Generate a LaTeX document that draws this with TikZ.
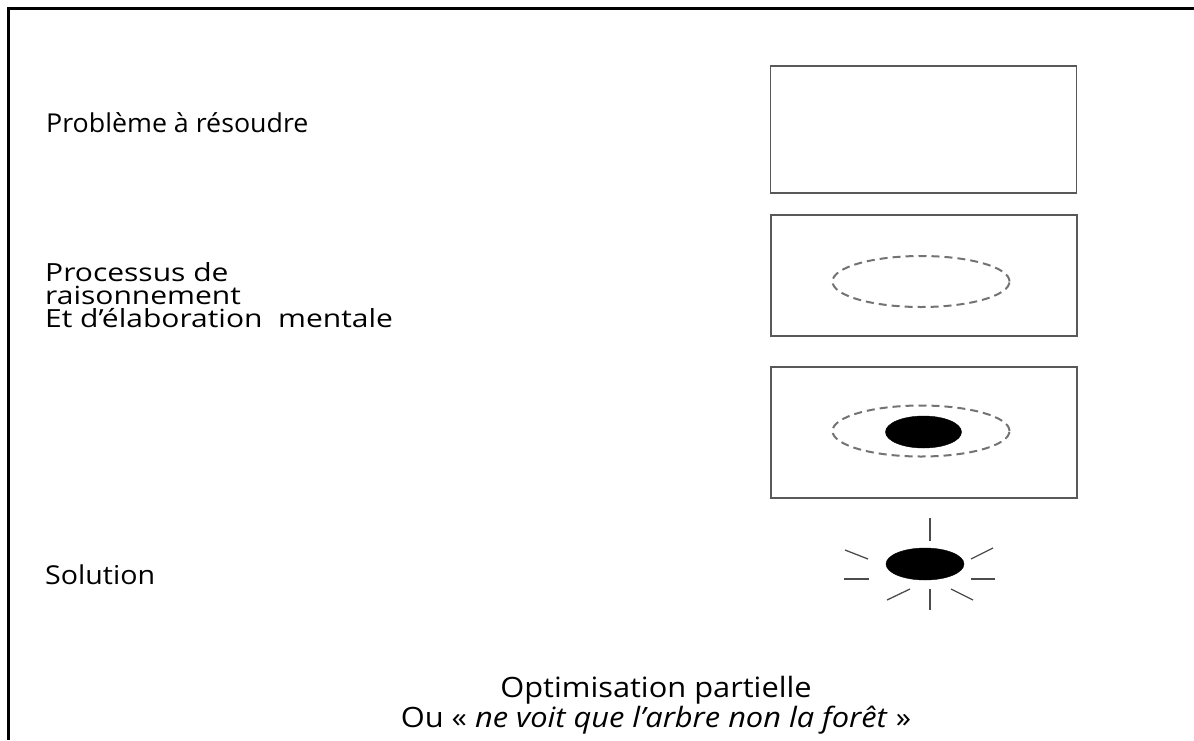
\documentclass[tikz,border=0pt]{standalone}
\usepackage{fontspec}
\setmainfont{Open Sans}
\newfontfamily\widefont[FakeStretch=1.1]{Open Sans}
\newfontfamily\widerfont[FakeStretch=1.2]{Open Sans}
\newfontfamily\narrowfont[FakeStretch=1.03]{Open Sans}
\usetikzlibrary{shapes.geometric}
\tikzset{
  panel/.style={draw=black!65, line width=1.4pt, minimum width=306pt, inner sep=0pt},
  halo/.style={ellipse, draw=black!55, dashed, dash pattern=on 8pt off 5pt, line width=2pt, minimum width=177pt, minimum height=51pt, inner sep=0pt},
  core/.style={ellipse, fill=black, draw=black, minimum width=76pt, minimum height=32pt, inner sep=0pt},
  label/.style={anchor=base west, inner sep=0pt, font=\widefont\fontsize{26}{22}\selectfont, align=left},
  ray/.style={draw=black!70, line width=1.3pt},
  frame/.style={line width=3pt, black}
}
\begin{document}
\begin{tikzpicture}[x=1pt, y=-1pt]
\useasboundingbox (0,0) rectangle (1194,740);
% page frame (top and left edges only)
\coordinate (fTL) at (8,8);
\coordinate (fTR) at (1194,8);
\coordinate (fBL) at (8,740);
\draw[frame] (fTR) -- (fTL) -- (fBL);

% left-hand captions (base anchor = baseline of the last line)
\node[label, font=\narrowfont\fontsize{26}{22}\selectfont] (lProb) at (46,132) {Problème à résoudre};
\node[label, font=\widerfont\fontsize{25}{23}\selectfont] (lProc) at (45,327) {Processus de\\raisonnement\\Et d’élaboration \ mentale};
\node[label] (lSol) at (45,584) {Solution};

% stages of the reasoning
\node[panel, minimum height=127pt] (box1) at (923.5,129.5) {};
\node[panel, minimum height=121pt] (box2) at (924,275.5) {};
\node[panel, minimum height=131pt] (box3) at (924,432.5) {};
\node[halo] (halo2) at (921,281.5) {};
\node[halo] (halo3) at (921,431) {};
\node[core] (core3) at (923.5,432) {};

% the solution, shining
\node[core, minimum width=78pt] (sun) at (925,564) {};
\draw[ray] (930,518) -- (930,541);
\draw[ray] (930,589) -- (930,610);
\draw[ray] (844,579) -- (869,579);
\draw[ray] (971,579) -- (995,579);
\draw[ray] (845,550) -- (868,559);
\draw[ray] (971,559) -- (993,548);
\draw[ray] (887,600) -- (910,589);
\draw[ray] (951,589) -- (973,600);

% caption at the bottom
\node[anchor=base, inner sep=0pt, font=\widefont\fontsize{28}{22}\selectfont, align=center] (cap) at (656,727)
  {Optimisation partielle\\Ou « \textit{ne voit que l’arbre non la forêt} »};
\end{tikzpicture}
\end{document}
